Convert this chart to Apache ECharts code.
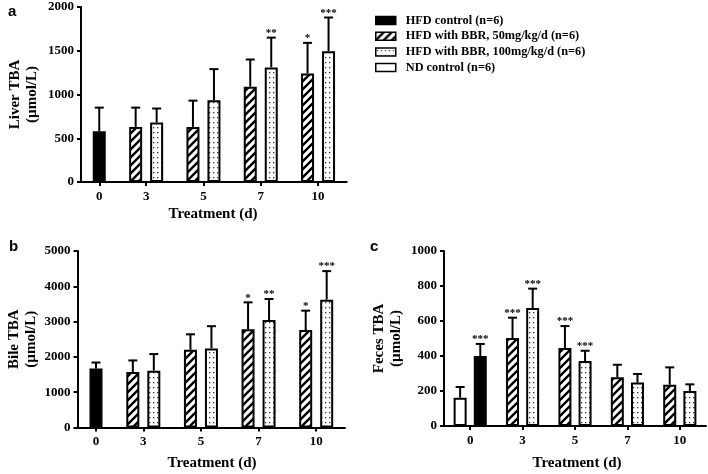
<!DOCTYPE html>
<html><head><meta charset="utf-8">
<script src="https://cdn.jsdelivr.net/npm/echarts@6/dist/echarts.min.js"></script>
<style>html,body{margin:0;padding:0;background:#fff}#c{width:708px;height:474px}</style>
</head><body><div id="c"></div>
<script>
// ---------- DATA ----------
const categories = ['0', '3', '5', '7', '10'];
const seriesNames = ['HFD control (n=6)', 'HFD with BBR, 50mg/kg/d (n=6)', 'HFD with BBR, 100mg/kg/d (n=6)', 'ND control (n=6)'];

// Panel a: Liver TBA (umol/L); HFD control at day 0, BBR groups at days 3,5,7,10
const liverHFD = [580];
const liverHFDErr = [850];
const liverBBR50 = [630, 630, 1090, 1240];
const liverBBR50Err = [850, 930, 1400, 1590];
const liverBBR50Sig = ['', '', '', '*'];
const liverBBR100 = [680, 935, 1310, 1495];
const liverBBR100Err = [840, 1290, 1650, 1880];
const liverBBR100Sig = ['', '', '**', '***'];

// Panel b: Bile TBA
const bileHFD = [1670];
const bileHFDErr = [1840];
const bileBBR50 = [1570, 2200, 2780, 2760];
const bileBBR50Err = [1900, 2640, 3545, 3310];
const bileBBR50Sig = ['', '', '*', '*'];
const bileBBR100 = [1610, 2240, 3045, 3620];
const bileBBR100Err = [2080, 2870, 3640, 4430];
const bileBBR100Sig = ['', '', '**', '***'];

// Panel c: Feces TBA; ND and HFD control at day 0, BBR groups at days 3,5,7,10
const fecesND = [162];
const fecesNDErr = [223];
const fecesHFD = [400];
const fecesHFDErr = [469];
const fecesHFDSig = ['***'];
const fecesBBR50 = [503, 446, 278, 236];
const fecesBBR50Err = [619, 571, 350, 335];
const fecesBBR50Sig = ['***', '***', '', ''];
const fecesBBR100 = [674, 371, 248, 200];
const fecesBBR100Err = [785, 430, 297, 238];
const fecesBBR100Sig = ['***', '***', '', ''];

const yTicksLiver = { min: 0, max: 2000, interval: 500 };
const yTicksBile = { min: 0, max: 5000, interval: 1000 };
const yTicksFeces = { min: 0, max: 1000, interval: 200 };

// ---------- STYLE ----------
const SERIF = '"Liberation Serif", "Times New Roman", serif';
const SANS = '"Liberation Sans", Arial, sans-serif';

function hatchPattern() {
  const c = document.createElement('canvas'); c.width = 8; c.height = 8;
  const g = c.getContext('2d');
  g.fillStyle = '#fff'; g.fillRect(0, 0, 8, 8);
  g.strokeStyle = '#000'; g.lineWidth = 2.4;
  g.beginPath();
  g.moveTo(-8, 8); g.lineTo(0, 0);
  g.moveTo(0, 8); g.lineTo(8, 0);
  g.moveTo(8, 8); g.lineTo(16, 0);
  g.moveTo(-8, 16); g.lineTo(8, 0);
  g.moveTo(0, 16); g.lineTo(16, 0);
  g.moveTo(-8, 0); g.lineTo(0, -8);
  g.moveTo(0, 0); g.lineTo(8, -8);
  g.stroke();
  return { image: c, repeat: 'repeat' };
}
function dotPattern() {
  const c = document.createElement('canvas'); c.width = 4; c.height = 5;
  const g = c.getContext('2d');
  g.fillStyle = '#fff'; g.fillRect(0, 0, 4, 5);
  g.fillStyle = '#333'; g.fillRect(1, 2, 1.3, 1.3);
  return { image: c, repeat: 'repeat' };
}
const HATCH = hatchPattern();
const DOTS = dotPattern();

const BAR_W = 13;
const GAP_AB = 0.615;
const GAP_C = 0.55;
const HALF_AB = BAR_W * (1 + GAP_AB) / 2;
const HALF_C = BAR_W * (1 + GAP_C) / 2;

const fills = ['#000', HATCH, DOTS, '#fff'];

function barSeries(nameIdx, xi, yi, data, gap, stack) {
  const s = {
    type: 'bar', name: seriesNames[nameIdx], xAxisIndex: xi, yAxisIndex: yi,
    data: data, barWidth: BAR_W, barGap: (gap * 100) + '%',
    itemStyle: { color: fills[nameIdx], borderColor: '#000', borderWidth: 2 },
    emphasis: { disabled: true }, z: 2
  };
  if (stack) s.stack = stack;
  return s;
}

function errSeries(xi, yi, idxStart, vals, errs, sigs, offset) {
  return {
    type: 'custom', xAxisIndex: xi, yAxisIndex: yi, silent: true, z: 3,
    data: vals.map((v, i) => [idxStart + i, v, errs[i]]),
    renderItem: function (params, api) {
      const top = api.coord([api.value(0), api.value(1)]);
      const e = api.coord([api.value(0), api.value(2)]);
      const x = top[0] + offset;
      const sig = sigs ? sigs[params.dataIndex] : '';
      const children = [
        { type: 'line', shape: { x1: x, y1: top[1], x2: x, y2: e[1] }, style: { stroke: '#000', lineWidth: 2 } },
        { type: 'line', shape: { x1: x - 4.5, y1: e[1], x2: x + 4.5, y2: e[1] }, style: { stroke: '#000', lineWidth: 2 } }
      ];
      if (sig) children.push({ type: 'text', style: { text: sig, x: x, y: e[1] + 1, textAlign: 'center', textVerticalAlign: 'bottom', font: 'bold 11px ' + SERIF, fill: '#000' } });
      return { type: 'group', children: children };
    }
  };
}

const axisLineStyle = { show: true, lineStyle: { color: '#000', width: 2 } };
const tickStyle = { show: true, length: 4, lineStyle: { color: '#000', width: 2 } };
const labelStyle = { color: '#000', fontFamily: SERIF, fontWeight: 'bold', fontSize: 13 };

function xAxisDef(gridIndex, cats) {
  return {
    type: 'category', gridIndex: gridIndex, data: cats,
    axisLine: axisLineStyle, axisTick: Object.assign({ alignWithLabel: true }, tickStyle),
    axisLabel: Object.assign({ margin: 8 }, labelStyle), splitLine: { show: false }
  };
}
function yAxisDef(gridIndex, ticks, show, name, gap) {
  return {
    type: 'value', gridIndex: gridIndex, min: ticks.min, max: ticks.max, interval: ticks.interval,
    show: show, name: name, nameLocation: 'middle', nameGap: gap,
    nameTextStyle: { color: '#000', fontFamily: SERIF, fontWeight: 'bold', fontSize: 15, lineHeight: 17 },
    axisLine: axisLineStyle, axisTick: tickStyle,
    axisLabel: Object.assign({ margin: 7, formatter: v => String(v) }, labelStyle), splitLine: { show: false }
  };
}

const dayCats = categories.slice(1);
const pad = (arr, before, after) => Array(before).fill('-').concat(arr, Array(after).fill('-'));

const option = {
  animation: false,
  backgroundColor: '#fff',
  grid: [
    { left: 81, top: 7, width: 36.5, height: 175 },
    { left: 117.5, top: 7, width: 229.2, height: 175 },
    { left: 77.5, top: 251, width: 37, height: 176.5 },
    { left: 114.5, top: 251, width: 230.5, height: 176.5 },
    { left: 444, top: 251, width: 262, height: 175 }
  ],
  xAxis: [
    xAxisDef(0, categories.slice(0, 1)),
    xAxisDef(1, dayCats),
    xAxisDef(2, categories.slice(0, 1)),
    xAxisDef(3, dayCats),
    xAxisDef(4, categories)
  ],
  yAxis: [
    yAxisDef(0, yTicksLiver, true, 'Liver TBA\n(µmol/L)', 40),
    yAxisDef(1, yTicksLiver, false, '', 0),
    yAxisDef(2, yTicksBile, true, 'Bile TBA\n(µmol/L)', 38),
    yAxisDef(3, yTicksBile, false, '', 0),
    yAxisDef(4, yTicksFeces, true, 'Feces TBA\n(µmol/L)', 39)
  ],
  legend: {
    orient: 'vertical', left: 370, top: 8.5, itemWidth: 20, itemHeight: 8, itemGap: 1.7,
    icon: 'rect', selectedMode: false,
    data: seriesNames,
    itemStyle: { borderColor: '#000', borderWidth: 1.5 },
    textStyle: { color: '#000', fontFamily: SERIF, fontWeight: 'bold', fontSize: 12.3, lineHeight: 14, padding: [0, 0, 0, 5] }
  },
  graphic: [
    { type: 'text', x: 8, y: 4, style: { text: 'a', font: 'bold 15px ' + SANS, fill: '#000' } },
    { type: 'text', x: 9, y: 239, style: { text: 'b', font: 'bold 15px ' + SANS, fill: '#000' } },
    { type: 'text', x: 370, y: 239, style: { text: 'c', font: 'bold 15px ' + SANS, fill: '#000' } },
    { type: 'text', x: 213, y: 214, style: { text: 'Treatment (d)', textAlign: 'center', textVerticalAlign: 'middle', font: 'bold 15px ' + SERIF, fill: '#000' } },
    { type: 'text', x: 212, y: 463, style: { text: 'Treatment (d)', textAlign: 'center', textVerticalAlign: 'middle', font: 'bold 15px ' + SERIF, fill: '#000' } },
    { type: 'text', x: 577, y: 463, style: { text: 'Treatment (d)', textAlign: 'center', textVerticalAlign: 'middle', font: 'bold 15px ' + SERIF, fill: '#000' } }
  ],
  series: [
    // panel a
    barSeries(0, 0, 0, liverHFD, GAP_AB),
    barSeries(1, 1, 1, liverBBR50, GAP_AB),
    barSeries(2, 1, 1, liverBBR100, GAP_AB),
    errSeries(0, 0, 0, liverHFD, liverHFDErr, null, 0),
    errSeries(1, 1, 0, liverBBR50, liverBBR50Err, liverBBR50Sig, -HALF_AB),
    errSeries(1, 1, 0, liverBBR100, liverBBR100Err, liverBBR100Sig, HALF_AB),
    // panel b
    barSeries(0, 2, 2, bileHFD, GAP_AB),
    barSeries(1, 3, 3, bileBBR50, GAP_AB),
    barSeries(2, 3, 3, bileBBR100, GAP_AB),
    errSeries(2, 2, 0, bileHFD, bileHFDErr, null, 0),
    errSeries(3, 3, 0, bileBBR50, bileBBR50Err, bileBBR50Sig, -HALF_AB),
    errSeries(3, 3, 0, bileBBR100, bileBBR100Err, bileBBR100Sig, HALF_AB),
    // panel c
    barSeries(3, 4, 4, pad(fecesND, 0, 4), GAP_C, 'L'),
    barSeries(0, 4, 4, pad(fecesHFD, 0, 4), GAP_C, 'R'),
    barSeries(1, 4, 4, pad(fecesBBR50, 1, 0), GAP_C, 'L'),
    barSeries(2, 4, 4, pad(fecesBBR100, 1, 0), GAP_C, 'R'),
    errSeries(4, 4, 0, fecesND, fecesNDErr, null, -HALF_C),
    errSeries(4, 4, 0, fecesHFD, fecesHFDErr, fecesHFDSig, HALF_C),
    errSeries(4, 4, 1, fecesBBR50, fecesBBR50Err, fecesBBR50Sig, -HALF_C),
    errSeries(4, 4, 1, fecesBBR100, fecesBBR100Err, fecesBBR100Sig, HALF_C)
  ]
};

const chart = echarts.init(document.getElementById('c'), null, { renderer: 'canvas' });
chart.setOption(option);
</script>
</body></html>
